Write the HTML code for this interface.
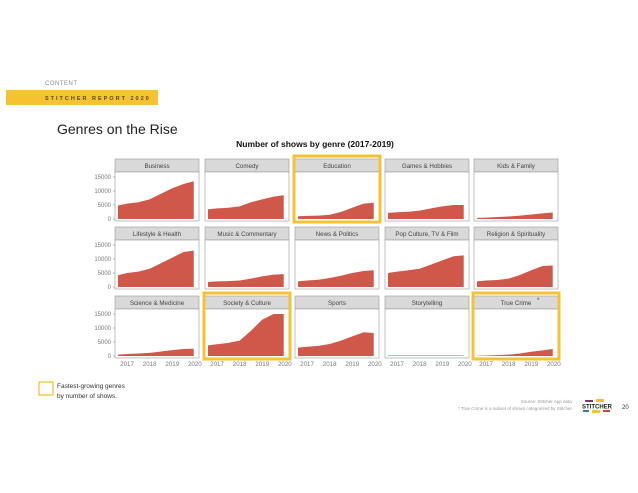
<!DOCTYPE html>
<html><head><meta charset="utf-8"><style>
body{margin:0;width:638px;height:493px;background:#fff;overflow:hidden;font-family:"Liberation Sans",sans-serif;}
svg{position:absolute;left:0;top:0}
</style></head><body>
<svg width="638" height="493">
<text x="45" y="85" font-size="6" fill="#888" letter-spacing="0.5">CONTENT</text>
<rect x="6" y="90" width="152" height="15" fill="#f5c232"/>
<text x="45" y="100" font-size="5.5" fill="#5a4a1a" letter-spacing="2.0" font-weight="bold">STITCHER REPORT 2020</text>
<text x="57" y="134" font-size="14" fill="#222">Genres on the Rise</text>
<text x="315" y="147" font-size="8.5" font-weight="bold" text-anchor="middle" fill="#111">Number of shows by genre (2017-2019)</text>
<g id="chart"></g>
<rect x="39" y="382" width="14" height="13" fill="none" stroke="#f5c232" stroke-width="1.3"/>
<text x="57" y="388" font-size="6.5" fill="#333">Fastest-growing genres</text>
<text x="57" y="398" font-size="6.5" fill="#333">by number of shows.</text>
<text x="573" y="403" font-size="4.5" fill="#999" text-anchor="end">Source: Stitcher App data.</text>
<text x="573" y="410" font-size="4.5" fill="#999" text-anchor="end">* True Crime is a subset of shows categorized by Stitcher.</text>
<g>
<rect x="585" y="400" width="8" height="2" fill="#7a3b6a"/><rect x="596" y="399" width="8" height="3" fill="#f5c232"/>
<rect x="583" y="410" width="6" height="2" fill="#3a7ab8"/><rect x="592" y="410" width="8" height="3" fill="#f5c232"/><rect x="603" y="410" width="7" height="2" fill="#c24a3a"/>
<text x="597" y="408.5" font-size="6" font-weight="bold" text-anchor="middle" fill="#222">STITCHER</text></g>
<text x="622" y="409" font-size="6" fill="#333">20</text>
</svg>
<script>
const genres=["Business","Comedy","Education","Games & Hobbies","Kids & Family","Lifestyle & Health","Music & Commentary","News & Politics","Pop Culture, TV & Film","Religion & Spirituality","Science & Medicine","Society & Culture","Sports","Storytelling","True Crime"];
const times=[2016.6,2017,2017.5,2018,2018.5,2019,2019.5,2019.95];
const business=[4800,5500,6000,7000,9000,11000,12500,13500];
const comedy=[3500,3800,4000,4500,6000,7000,8000,8500];
const education=[1000,1100,1200,1500,2500,4000,5500,5800];
const games=[2200,2400,2600,3000,3800,4500,5000,5000];
const kids=[400,500,700,900,1200,1600,2000,2300];
const lifestyle=[4200,5000,5500,6500,8500,10500,12500,13000];
const music=[1800,2000,2100,2300,3000,3800,4400,4600];
const news=[2000,2300,2600,3200,4000,5000,5700,6000];
const pop=[5000,5500,6000,6500,8000,9500,11000,11300];
const religion=[2000,2300,2500,3000,4300,6000,7500,7700];
const science=[500,700,900,1100,1600,2100,2500,2600];
const society=[3800,4200,4700,5500,9000,13000,15000,15000];
const sports=[3000,3300,3600,4300,5500,7000,8500,8200];
const storytelling=[200,200,200,200,200,200,200,200];
const trueCrime=[100,200,300,500,900,1500,2000,2500];
const series=[business,comedy,education,games,kids,lifestyle,music,news,pop,religion,science,society,sports,storytelling,trueCrime];
const yTicks=[0,5000,10000,15000];
const xTicks=[2017,2018,2019,2020];
const highlighted=["Education","Society & Culture","True Crime"];
const NS="http://www.w3.org/2000/svg";
const g=document.getElementById('chart');
function mk(t,a){const e=document.createElementNS(NS,t);for(const k in a)e.setAttribute(k,a[k]);return e;}
const colX=[115,205,295,385,474],rowY=[159,227,296],W=84,SH=13,BH=49;
function xs(c,t){return colX[c]+3+(t-2016.6)/(2020.05-2016.6)*(W-6);}
function ys(r,v){return rowY[r]+SH+BH-2-v*(42/15000);}
genres.forEach((name,i)=>{
 const c=i%5,r=Math.floor(i/5),x0=colX[c],y0=rowY[r];
 const strip=mk('rect',{x:x0,y:y0,width:W,height:SH,fill:'#d9d9d9',stroke:'#999','stroke-width':0.6});
 
 
 g.appendChild(strip);
 const lab=mk('text',{x:x0+W/2,y:y0+9,'font-size':6.2,'text-anchor':'middle',fill:'#444'});
 lab.textContent=name;
 
 
 g.appendChild(lab);
 const body=mk('rect',{x:x0,y:y0+SH,width:W,height:BH,fill:'#fff',stroke:'#999','stroke-width':0.6});
 
 
 g.appendChild(body);
 const d=series[i];
 let p='M'+xs(c,times[0])+','+ys(r,0);
 times.forEach((t,k)=>{p+=' L'+xs(c,t)+','+ys(r,d[k]);});
 p+=' L'+xs(c,times[times.length-1])+','+ys(r,0)+' Z';
 const area=mk('path',{d:p,fill:'#d0584a'});
 
 
 g.appendChild(area);
 if(c===0){yTicks.forEach(v=>{
  const tl=mk('text',{x:x0-4,y:ys(r,v)+2.2,'font-size':6,'text-anchor':'end',fill:'#777'});
  tl.textContent=v;
  
  
  g.appendChild(tl);
  g.appendChild(mk('line',{x1:x0-2,x2:x0,y1:ys(r,v),y2:ys(r,v),stroke:'#777','stroke-width':0.5}));
 });}
 if(r===2){xTicks.forEach(t=>{
  const tl=mk('text',{x:xs(c,t),y:y0+SH+BH+8,'font-size':6.2,'text-anchor':'middle',fill:'#777'});
  tl.textContent=t;
  
  
  g.appendChild(tl);
 });}
 if(name==="True Crime"){const s=mk('text',{x:x0+W/2+21,y:y0+6,'font-size':6,fill:'#333'});s.textContent='*';g.appendChild(s);}
 if(highlighted.includes(name)){
  const hb=mk('rect',{x:x0-1,y:y0-3,width:W+2,height:SH+BH+4,fill:'none',stroke:'#f5c232','stroke-width':3});
  
  
  g.appendChild(hb);
 }
});
</script>
</body></html>
